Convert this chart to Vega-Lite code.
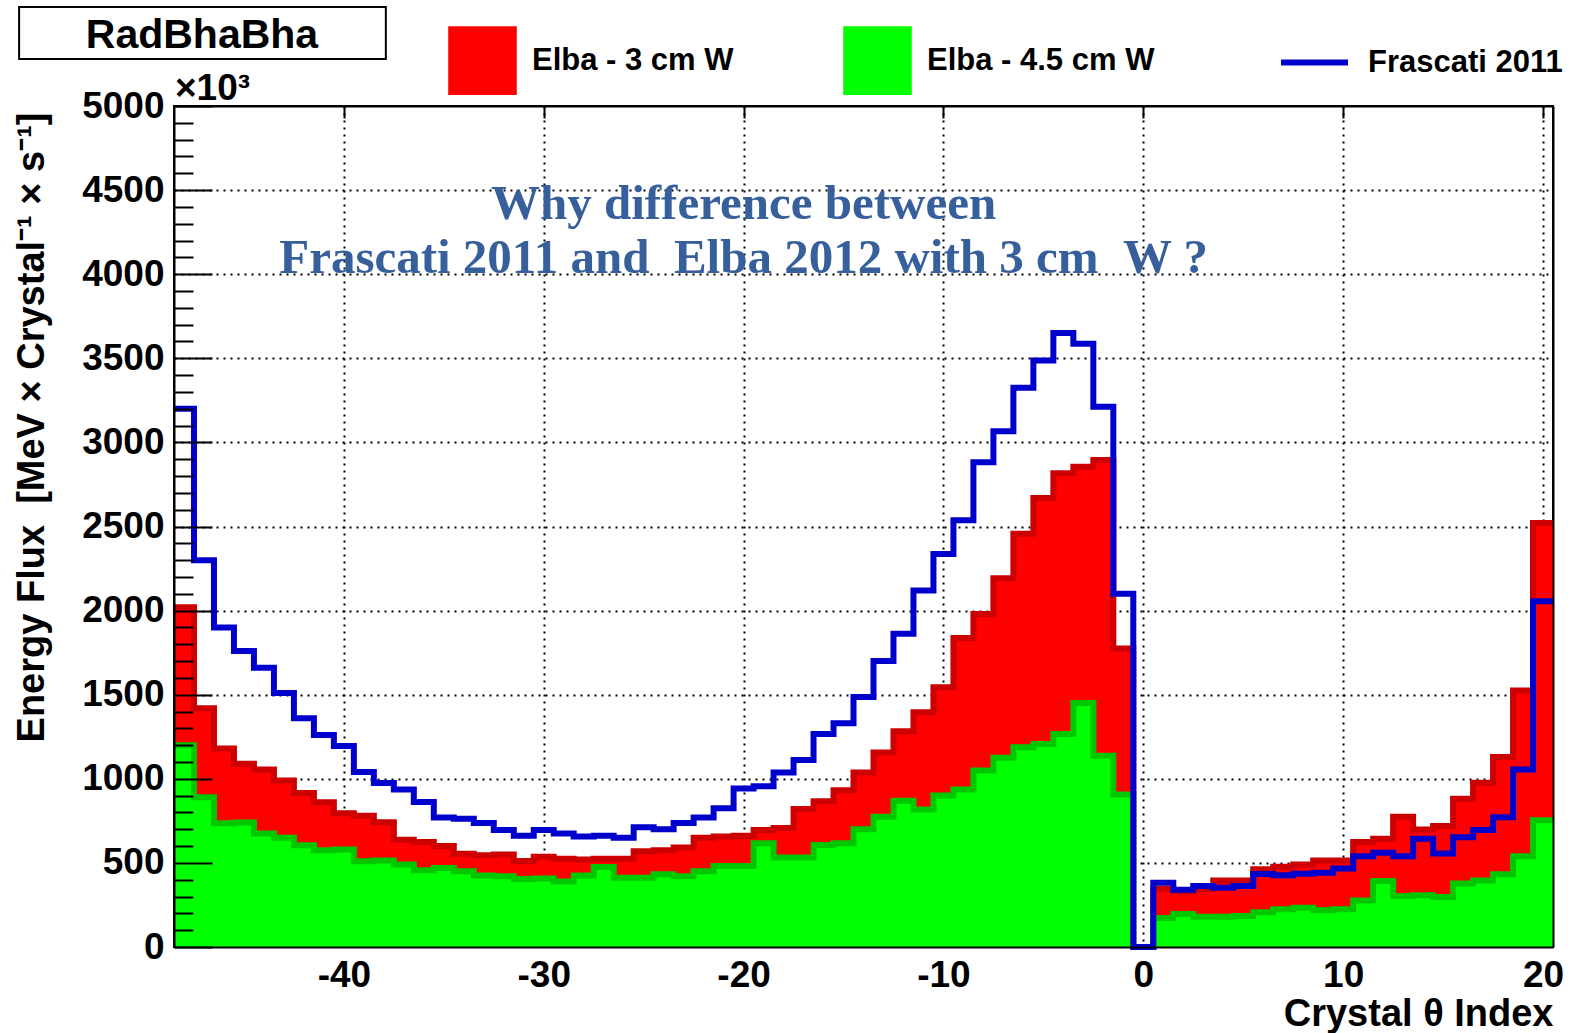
{
  "$schema": "https://vega.github.io/schema/vega-lite/v6.json",
  "width": 1379,
  "height": 841,
  "autosize": {"type": "none"},
  "padding": {"left": 174, "top": 106, "right": 17, "bottom": 86},
  "background": "#ffffff",
  "config": {
    "view": {"stroke": "#000000", "strokeWidth": 2},
    "font": "Liberation Sans",
    "axis": {"labelFont": "Liberation Sans", "titleFont": "Liberation Sans", "labelColor": "#000000", "titleColor": "#000000", "tickColor": "#000000", "domainColor": "#000000", "gridColor": "#000000", "labelFlush": false},
    "legend": {"labelFont": "Liberation Sans", "labelFontWeight": "bold", "labelColor": "#000000"}
  },
  "datasets": {
    "hist": [
      {"i": -48, "frascati": 3200, "elba3": 2020, "elba45": 1200},
      {"i": -47, "frascati": 2300, "elba3": 1420, "elba45": 890},
      {"i": -46, "frascati": 1900, "elba3": 1180, "elba45": 735},
      {"i": -45, "frascati": 1760, "elba3": 1090, "elba45": 740},
      {"i": -44, "frascati": 1660, "elba3": 1055, "elba45": 675},
      {"i": -43, "frascati": 1510, "elba3": 990, "elba45": 650},
      {"i": -42, "frascati": 1360, "elba3": 915, "elba45": 605},
      {"i": -41, "frascati": 1260, "elba3": 860, "elba45": 575},
      {"i": -40, "frascati": 1195, "elba3": 795, "elba45": 580},
      {"i": -39, "frascati": 1040, "elba3": 780, "elba45": 510},
      {"i": -38, "frascati": 975, "elba3": 742, "elba45": 515},
      {"i": -37, "frascati": 937, "elba3": 637, "elba45": 490},
      {"i": -36, "frascati": 862, "elba3": 625, "elba45": 457},
      {"i": -35, "frascati": 770, "elba3": 600, "elba45": 470},
      {"i": -34, "frascati": 762, "elba3": 555, "elba45": 450},
      {"i": -33, "frascati": 737, "elba3": 545, "elba45": 425},
      {"i": -32, "frascati": 695, "elba3": 550, "elba45": 420},
      {"i": -31, "frascati": 662, "elba3": 512, "elba45": 405},
      {"i": -30, "frascati": 695, "elba3": 537, "elba45": 407},
      {"i": -29, "frascati": 675, "elba3": 525, "elba45": 390},
      {"i": -28, "frascati": 657, "elba3": 520, "elba45": 425},
      {"i": -27, "frascati": 662, "elba3": 525, "elba45": 475},
      {"i": -26, "frascati": 650, "elba3": 525, "elba45": 412},
      {"i": -25, "frascati": 712, "elba3": 570, "elba45": 412},
      {"i": -24, "frascati": 700, "elba3": 575, "elba45": 432},
      {"i": -23, "frascati": 737, "elba3": 592, "elba45": 420},
      {"i": -22, "frascati": 770, "elba3": 650, "elba45": 450},
      {"i": -21, "frascati": 825, "elba3": 657, "elba45": 482},
      {"i": -20, "frascati": 942, "elba3": 662, "elba45": 482},
      {"i": -19, "frascati": 955, "elba3": 695, "elba45": 617},
      {"i": -18, "frascati": 1037, "elba3": 707, "elba45": 532},
      {"i": -17, "frascati": 1112, "elba3": 820, "elba45": 532},
      {"i": -16, "frascati": 1267, "elba3": 867, "elba45": 607},
      {"i": -15, "frascati": 1330, "elba3": 932, "elba45": 617},
      {"i": -14, "frascati": 1487, "elba3": 1037, "elba45": 700},
      {"i": -13, "frascati": 1700, "elba3": 1157, "elba45": 775},
      {"i": -12, "frascati": 1862, "elba3": 1282, "elba45": 870},
      {"i": -11, "frascati": 2120, "elba3": 1395, "elba45": 817},
      {"i": -10, "frascati": 2337, "elba3": 1545, "elba45": 900},
      {"i": -9, "frascati": 2537, "elba3": 1837, "elba45": 937},
      {"i": -8, "frascati": 2882, "elba3": 1980, "elba45": 1050},
      {"i": -7, "frascati": 3067, "elba3": 2192, "elba45": 1125},
      {"i": -6, "frascati": 3325, "elba3": 2457, "elba45": 1187},
      {"i": -5, "frascati": 3487, "elba3": 2670, "elba45": 1207},
      {"i": -4, "frascati": 3650, "elba3": 2817, "elba45": 1267},
      {"i": -3, "frascati": 3587, "elba3": 2855, "elba45": 1450},
      {"i": -2, "frascati": 3212, "elba3": 2895, "elba45": 1137},
      {"i": -1, "frascati": 2100, "elba3": 1775, "elba45": 907},
      {"i": 0, "frascati": 0, "elba3": 0, "elba45": 0},
      {"i": 1, "frascati": 382, "elba3": 347, "elba45": 172},
      {"i": 2, "frascati": 340, "elba3": 330, "elba45": 196},
      {"i": 3, "frascati": 363, "elba3": 345, "elba45": 180},
      {"i": 4, "frascati": 353, "elba3": 396, "elba45": 180},
      {"i": 5, "frascati": 363, "elba3": 395, "elba45": 184},
      {"i": 6, "frascati": 434, "elba3": 462, "elba45": 206},
      {"i": 7, "frascati": 426, "elba3": 477, "elba45": 224},
      {"i": 8, "frascati": 436, "elba3": 491, "elba45": 234},
      {"i": 9, "frascati": 441, "elba3": 515, "elba45": 218},
      {"i": 10, "frascati": 467, "elba3": 515, "elba45": 224},
      {"i": 11, "frascati": 540, "elba3": 624, "elba45": 277},
      {"i": 12, "frascati": 560, "elba3": 643, "elba45": 392},
      {"i": 13, "frascati": 540, "elba3": 774, "elba45": 303},
      {"i": 14, "frascati": 643, "elba3": 699, "elba45": 307},
      {"i": 15, "frascati": 556, "elba3": 719, "elba45": 297},
      {"i": 16, "frascati": 653, "elba3": 881, "elba45": 378},
      {"i": 17, "frascati": 695, "elba3": 976, "elba45": 396},
      {"i": 18, "frascati": 772, "elba3": 1129, "elba45": 432},
      {"i": 19, "frascati": 1055, "elba3": 1525, "elba45": 540},
      {"i": 20, "frascati": 2055, "elba3": 2521, "elba45": 754}
    ]
  },
  "layer": [
    {
      "data": {"name": "hist"},
      "transform": [
        {"bin": {"step": 1, "extent": [-48.5, 20.5], "nice": false}, "field": "i", "as": ["x0", "x1"]},
        {"fold": ["x0", "x1"], "as": ["edge", "xe"]}
      ],
      "mark": {"type": "area", "interpolate": "linear", "opacity": 1},
      "encoding": {
        "x": {"field": "xe", "type": "quantitative", "scale": {"domain": [-48.5, 20.5], "nice": false, "zero": false},
          "axis": {"orient": "bottom", "values": [-40, -30, -20, -10, 0, 10, 20], "grid": true, "gridDash": [2, 5], "gridWidth": 2, "labels": false, "ticks": false, "domain": false, "title": null, "zindex": 0}},
        "y": {"field": "elba3", "type": "quantitative", "stack": null, "scale": {"domain": [0, 5000], "nice": false},
          "axis": {"orient": "left", "values": [500, 1000, 1500, 2000, 2500, 3000, 3500, 4000, 4500], "grid": true, "gridDash": [2, 5], "gridWidth": 2, "labels": false, "ticks": false, "domain": false, "title": null, "zindex": 0}},
        "fill": {"datum": "Elba - 3 cm W", "type": "nominal",
          "scale": {"domain": ["Elba - 3 cm W", "Elba - 4.5 cm W"], "range": ["#ff0000", "#00ff00"]},
          "legend": {"orient": "none", "legendX": 274, "legendY": -80, "direction": "horizontal", "title": null, "symbolType": "square", "symbolSize": 4700, "symbolStrokeWidth": 0, "symbolOpacity": 1, "labelFontSize": 31, "labelOffset": 15, "columnPadding": 109, "labelLimit": 500}}
      }
    },
    {
      "data": {"name": "hist"},
      "transform": [
        {"bin": {"step": 1, "extent": [-48.5, 20.5], "nice": false}, "field": "i", "as": ["x0", "x1"]},
        {"fold": ["x0", "x1"], "as": ["edge", "xe"]}
      ],
      "mark": {"type": "line", "stroke": "#cc0000", "strokeWidth": 6, "strokeJoin": "miter"},
      "encoding": {
        "x": {"field": "xe", "type": "quantitative", "scale": {"domain": [-48.5, 20.5], "nice": false, "zero": false},
          "axis": {"orient": "bottom", "values": [-40, -30, -20, -10, 0, 10, 20], "labelExpr": "datum.value < 0 ? '-' + abs(datum.value) : '' + datum.value", "labelFontSize": 37, "labelFontWeight": "bold", "labelPadding": 10, "ticks": false, "grid": false, "domain": true, "domainWidth": 2, "zindex": 1,
            "title": "Crystal θ Index", "titleFontSize": 38, "titleFontWeight": "bold", "titleAlign": "right", "titleAnchor": "end", "titleBaseline": "alphabetic", "titleX": 1379, "titleY": 78}},
        "y": {"field": "elba3", "type": "quantitative", "scale": {"domain": [0, 5000], "nice": false},
          "axis": {"orient": "left", "values": [0, 500, 1000, 1500, 2000, 2500, 3000, 3500, 4000, 4500, 5000], "labelExpr": "'' + datum.value", "labelFontSize": 37, "labelFontWeight": "bold", "labelPadding": 10, "ticks": false, "grid": false, "domain": true, "domainWidth": 2, "zindex": 1,
            "title": "Energy Flux \u00a0[MeV × Crystal⁻¹ × s⁻¹]", "titleFontSize": 38, "titleFontWeight": "bold", "titleAngle": 270, "titleAlign": "right", "titleBaseline": "alphabetic", "titleX": -131, "titleY": 6}},
        "order": [{"field": "i", "type": "quantitative"}, {"field": "edge", "type": "nominal"}]
      }
    },
    {
      "data": {"name": "hist"},
      "transform": [
        {"bin": {"step": 1, "extent": [-48.5, 20.5], "nice": false}, "field": "i", "as": ["x0", "x1"]},
        {"fold": ["x0", "x1"], "as": ["edge", "xe"]}
      ],
      "mark": {"type": "area", "interpolate": "linear", "opacity": 1},
      "encoding": {
        "x": {"field": "xe", "type": "quantitative", "scale": {"domain": [-48.5, 20.5], "nice": false, "zero": false},
          "axis": {"orient": "top", "values": [-40, -30, -20, -10, 0, 10, 20], "ticks": true, "tickSize": -12, "tickWidth": 2, "labels": false, "grid": false, "domain": true, "domainWidth": 2, "title": null, "zindex": 1}},
        "y": {"field": "elba45", "type": "quantitative", "stack": null, "scale": {"domain": [0, 5000], "nice": false},
          "axis": {"orient": "left", "values": [0, 500, 1000, 1500, 2000, 2500, 3000, 3500, 4000, 4500, 5000], "ticks": true, "tickSize": -38, "tickWidth": 2, "labels": false, "grid": false, "domain": false, "title": null, "zindex": 1}},
        "fill": {"datum": "Elba - 4.5 cm W", "type": "nominal",
          "scale": {"domain": ["Elba - 3 cm W", "Elba - 4.5 cm W"], "range": ["#ff0000", "#00ff00"]}}
      }
    },
    {
      "data": {"name": "hist"},
      "transform": [
        {"bin": {"step": 1, "extent": [-48.5, 20.5], "nice": false}, "field": "i", "as": ["x0", "x1"]},
        {"fold": ["x0", "x1"], "as": ["edge", "xe"]}
      ],
      "mark": {"type": "line", "stroke": "#00c800", "strokeWidth": 6, "strokeJoin": "miter"},
      "encoding": {
        "x": {"field": "xe", "type": "quantitative", "scale": {"domain": [-48.5, 20.5], "nice": false, "zero": false}, "axis": null},
        "y": {"field": "elba45", "type": "quantitative", "scale": {"domain": [0, 5000], "nice": false},
          "axis": {"orient": "left", "values": [100, 200, 300, 400, 600, 700, 800, 900, 1100, 1200, 1300, 1400, 1600, 1700, 1800, 1900, 2100, 2200, 2300, 2400, 2600, 2700, 2800, 2900, 3100, 3200, 3300, 3400, 3600, 3700, 3800, 3900, 4100, 4200, 4300, 4400, 4600, 4700, 4800, 4900], "ticks": true, "tickSize": -19, "tickWidth": 2, "labels": false, "grid": false, "domain": false, "title": null, "zindex": 1}},
        "order": [{"field": "i", "type": "quantitative"}, {"field": "edge", "type": "nominal"}]
      }
    },
    {
      "data": {"name": "hist"},
      "transform": [
        {"bin": {"step": 1, "extent": [-48.5, 20.5], "nice": false}, "field": "i", "as": ["x0", "x1"]},
        {"fold": ["x0", "x1"], "as": ["edge", "xe"]}
      ],
      "mark": {"type": "line", "strokeWidth": 6, "strokeJoin": "miter"},
      "encoding": {
        "x": {"field": "xe", "type": "quantitative", "scale": {"domain": [-48.5, 20.5], "nice": false, "zero": false}, "axis": null},
        "y": {"field": "frascati", "type": "quantitative", "scale": {"domain": [0, 5000], "nice": false},
          "axis": {"orient": "right", "labels": false, "ticks": false, "grid": false, "domain": true, "domainWidth": 2, "title": null, "zindex": 1}},
        "stroke": {"datum": "Frascati 2011", "type": "nominal",
          "scale": {"domain": ["Frascati 2011"], "range": ["#0000cc"]},
          "legend": {"orient": "none", "legendX": 1104, "legendY": -80, "direction": "horizontal", "title": null, "symbolType": "stroke", "symbolSize": 4489, "symbolStrokeWidth": 6, "labelFontSize": 31, "labelOffset": 17, "labelLimit": 500}},
        "order": [{"field": "i", "type": "quantitative"}, {"field": "edge", "type": "nominal"}]
      }
    },
    {
      "data": {"values": [{}]},
      "mark": {"type": "rect", "fill": "#ffffff", "stroke": "#000000", "strokeWidth": 2},
      "encoding": {
        "x": {"datum": -56.25, "type": "quantitative", "scale": {"domain": [-48.5, 20.5], "nice": false, "zero": false}, "axis": null},
        "x2": {"datum": -37.9},
        "y": {"datum": 5280, "type": "quantitative", "scale": {"domain": [0, 5000], "nice": false}, "axis": null},
        "y2": {"datum": 5589}
      }
    },
    {
      "data": {"values": [{}]},
      "mark": {"type": "text", "text": "RadBhaBha", "font": "Liberation Sans", "fontWeight": "bold", "fontSize": 41, "align": "center", "baseline": "alphabetic", "color": "#000000"},
      "encoding": {
        "x": {"datum": -47.1, "type": "quantitative", "scale": {"domain": [-48.5, 20.5], "nice": false, "zero": false}, "axis": null},
        "y": {"datum": 5345, "type": "quantitative", "scale": {"domain": [0, 5000], "nice": false}, "axis": null}
      }
    },
    {
      "data": {"values": [{}]},
      "mark": {"type": "text", "text": "×10³", "font": "Liberation Sans", "fontWeight": "bold", "fontSize": 37, "align": "left", "baseline": "alphabetic", "color": "#000000"},
      "encoding": {
        "x": {"datum": -48.45, "type": "quantitative", "scale": {"domain": [-48.5, 20.5], "nice": false, "zero": false}, "axis": null},
        "y": {"datum": 5036, "type": "quantitative", "scale": {"domain": [0, 5000], "nice": false}, "axis": null}
      }
    },
    {
      "data": {"values": [{}]},
      "mark": {"type": "text", "text": "Why difference between", "font": "Liberation Serif", "fontWeight": "bold", "fontSize": 49, "align": "center", "baseline": "alphabetic", "color": "#365f9c"},
      "encoding": {
        "x": {"datum": -20, "type": "quantitative", "scale": {"domain": [-48.5, 20.5], "nice": false, "zero": false}, "axis": null},
        "y": {"datum": 4330, "type": "quantitative", "scale": {"domain": [0, 5000], "nice": false}, "axis": null}
      }
    },
    {
      "data": {"values": [{}]},
      "mark": {"type": "text", "text": "Frascati 2011 and \u00a0Elba 2012 with 3 cm \u00a0W ?", "font": "Liberation Serif", "fontWeight": "bold", "fontSize": 49, "align": "center", "baseline": "alphabetic", "color": "#365f9c"},
      "encoding": {
        "x": {"datum": -20, "type": "quantitative", "scale": {"domain": [-48.5, 20.5], "nice": false, "zero": false}, "axis": null},
        "y": {"datum": 4010, "type": "quantitative", "scale": {"domain": [0, 5000], "nice": false}, "axis": null}
      }
    }
  ],
  "resolve": {"axis": {"x": "independent", "y": "independent"}, "scale": {"x": "shared", "y": "shared", "fill": "shared", "stroke": "independent"}}
}
